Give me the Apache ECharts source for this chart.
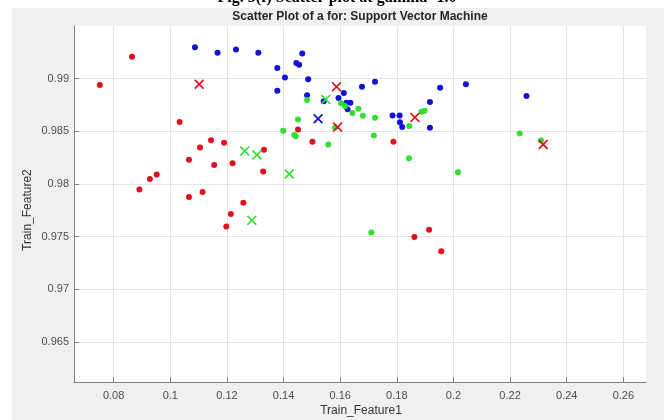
<!DOCTYPE html>
<html><head><meta charset="utf-8">
<script src="https://cdn.jsdelivr.net/npm/echarts@6/dist/echarts.min.js"></script>
<style>html,body{margin:0;padding:0;background:#fff}#c{width:664px;height:420px}</style>
</head><body><div id="c"></div>
<script>
const xTicks = [0.08,0.1,0.12,0.14,0.16,0.18,0.2,0.22,0.24,0.26];
const yTicks = [0.965,0.97,0.975,0.98,0.985,0.99];

const redDotX = [0.0751,0.0865,0.1033,0.1105,0.1144,0.1190,0.1066,0.1155,0.1220,0.1331,0.1328,0.0952,0.0928,0.0891,0.1066,0.1114,0.1258,0.1214,0.1198,0.1451,0.1502,0.1788,0.1862,0.1914,0.1957];
const redDotY = [0.9894,0.99207,0.98588,0.98347,0.98416,0.98391,0.98229,0.98181,0.98197,0.98324,0.98118,0.98090,0.98048,0.97947,0.97876,0.97924,0.97823,0.97715,0.97597,0.98518,0.98400,0.98400,0.97496,0.97566,0.97362];

const blueDotX = [0.1087,0.1167,0.1232,0.1311,0.1378,0.1378,0.1405,0.1466,0.1445,0.1455,0.1487,0.1483,0.1542,0.1613,0.1594,0.1622,0.1636,0.1626,0.1677,0.1723,0.1953,0.2044,0.1917,0.1785,0.1810,0.1811,0.1819,0.1917,0.2258];
const blueDotY = [0.99299,0.99245,0.99276,0.99245,0.99102,0.98886,0.99010,0.99238,0.99149,0.99133,0.98994,0.98842,0.98785,0.98864,0.98816,0.98772,0.98772,0.98709,0.98924,0.98971,0.98914,0.98946,0.98778,0.98651,0.98651,0.98585,0.98540,0.98533,0.98835];

const greenDotX = [0.1483,0.1603,0.1617,0.1643,0.1664,0.1680,0.1723,0.1451,0.1399,0.1438,0.1443,0.1582,0.1719,0.1558,0.1844,0.1887,0.1898,0.1843,0.2016,0.2234,0.2309,0.1710];
const greenDotY = [0.98797,0.98766,0.98740,0.98673,0.98714,0.98648,0.98629,0.98613,0.98505,0.98464,0.98454,0.98537,0.98461,0.98375,0.98550,0.98686,0.98695,0.98245,0.98112,0.98480,0.98413,0.97540];

const redCrossX = [0.1102,0.1587,0.1591,0.1864,0.2317];
const redCrossY = [0.98947,0.98924,0.98540,0.98632,0.98375];
const greenCrossX = [0.1263,0.1306,0.1288,0.1420,0.1549];
const greenCrossY = [0.98314,0.98276,0.97655,0.98095,0.98803];
const blueCrossX = [0.1522];
const blueCrossY = [0.98619];

const zip = (a, b) => a.map((v, i) => [v, b[i]]);
const RED = '#e0101e', BLUE = '#1212d2', GREEN = '#30e030';
const CROSS = 'path://M0,1.2 L1.2,0 L5,3.8 L8.8,0 L10,1.2 L6.2,5 L10,8.8 L8.8,10 L5,6.2 L1.2,10 L0,8.8 L3.8,5 Z';

function dots(name, data, color) {
  return { name, type: 'scatter', data, symbol: 'circle', symbolSize: 6,
    itemStyle: { color, opacity: 1 }, silent: true, animation: false };
}
function crosses(name, data, color) {
  return { name, type: 'scatter', data, symbol: CROSS, symbolSize: 10, z: 5,
    itemStyle: { color, opacity: 1 }, silent: true, animation: false };
}

const chart = echarts.init(document.getElementById('c'), null, { renderer: 'canvas' });
chart.setOption({
  backgroundColor: '#ffffff',
  animation: false,
  graphic: [
    { type: 'rect', shape: { x: 12, y: 8, width: 652, height: 412 }, style: { fill: '#f0f0f0' }, z: -10, silent: true },
    { type: 'text', x: 337, y: 6, style: { text: 'Fig. 5(f) Scatter plot at gamma=1.0', font: 'bold 16px "Liberation Serif", "DejaVu Serif", serif', fill: '#000', textAlign: 'center', textVerticalAlign: 'bottom' }, z: 10, silent: true },
    { type: 'text', x: 360, y: 17, style: { text: 'Scatter Plot of a for: Support Vector Machine', font: 'bold 12px "Liberation Sans", Arial, sans-serif', fill: '#262626', textAlign: 'center', textVerticalAlign: 'middle' }, silent: true },
    { type: 'text', x: 361, y: 411, style: { text: 'Train_Feature1', font: '12px "Liberation Sans", Arial, sans-serif', fill: '#333', textAlign: 'center', textVerticalAlign: 'middle' }, silent: true },
    { type: 'text', x: 28, y: 210, rotation: Math.PI / 2, style: { text: 'Train_Feature2', font: '12px "Liberation Sans", Arial, sans-serif', fill: '#333', textAlign: 'center', textVerticalAlign: 'middle' }, silent: true }
  ],
  grid: { left: 74, right: 18, top: 26, bottom: 38, show: true, backgroundColor: '#ffffff', borderWidth: 0, containLabel: false },
  xAxis: {
    type: 'value', min: 0.066, max: 0.268,
    axisLine: { show: true, lineStyle: { color: '#808080', width: 1 } },
    axisTick: { show: true, inside: true, length: 5, customValues: xTicks, lineStyle: { color: '#808080' } },
    axisLabel: { customValues: xTicks, margin: 8, color: '#4d4d4d', fontSize: 11, fontFamily: '"Liberation Sans", Arial, sans-serif' },
    splitLine: { show: true, lineStyle: { color: '#e4e4e4', width: 1 } }
  },
  yAxis: {
    type: 'value', min: 0.9612, max: 0.995,
    axisLine: { show: true, lineStyle: { color: '#808080', width: 1 } },
    axisTick: { show: true, inside: true, length: 5, customValues: yTicks, lineStyle: { color: '#808080' } },
    axisLabel: { customValues: yTicks, margin: 5, color: '#4d4d4d', fontSize: 11, fontFamily: '"Liberation Sans", Arial, sans-serif' },
    splitLine: { show: true, lineStyle: { color: '#e4e4e4', width: 1 } }
  },
  series: [
    dots('red', zip(redDotX, redDotY), RED),
    dots('blue', zip(blueDotX, blueDotY), BLUE),
    dots('green', zip(greenDotX, greenDotY), GREEN),
    crosses('redSV', zip(redCrossX, redCrossY), RED),
    crosses('greenSV', zip(greenCrossX, greenCrossY), GREEN),
    crosses('blueSV', zip(blueCrossX, blueCrossY), BLUE)
  ]
});
</script></body></html>
